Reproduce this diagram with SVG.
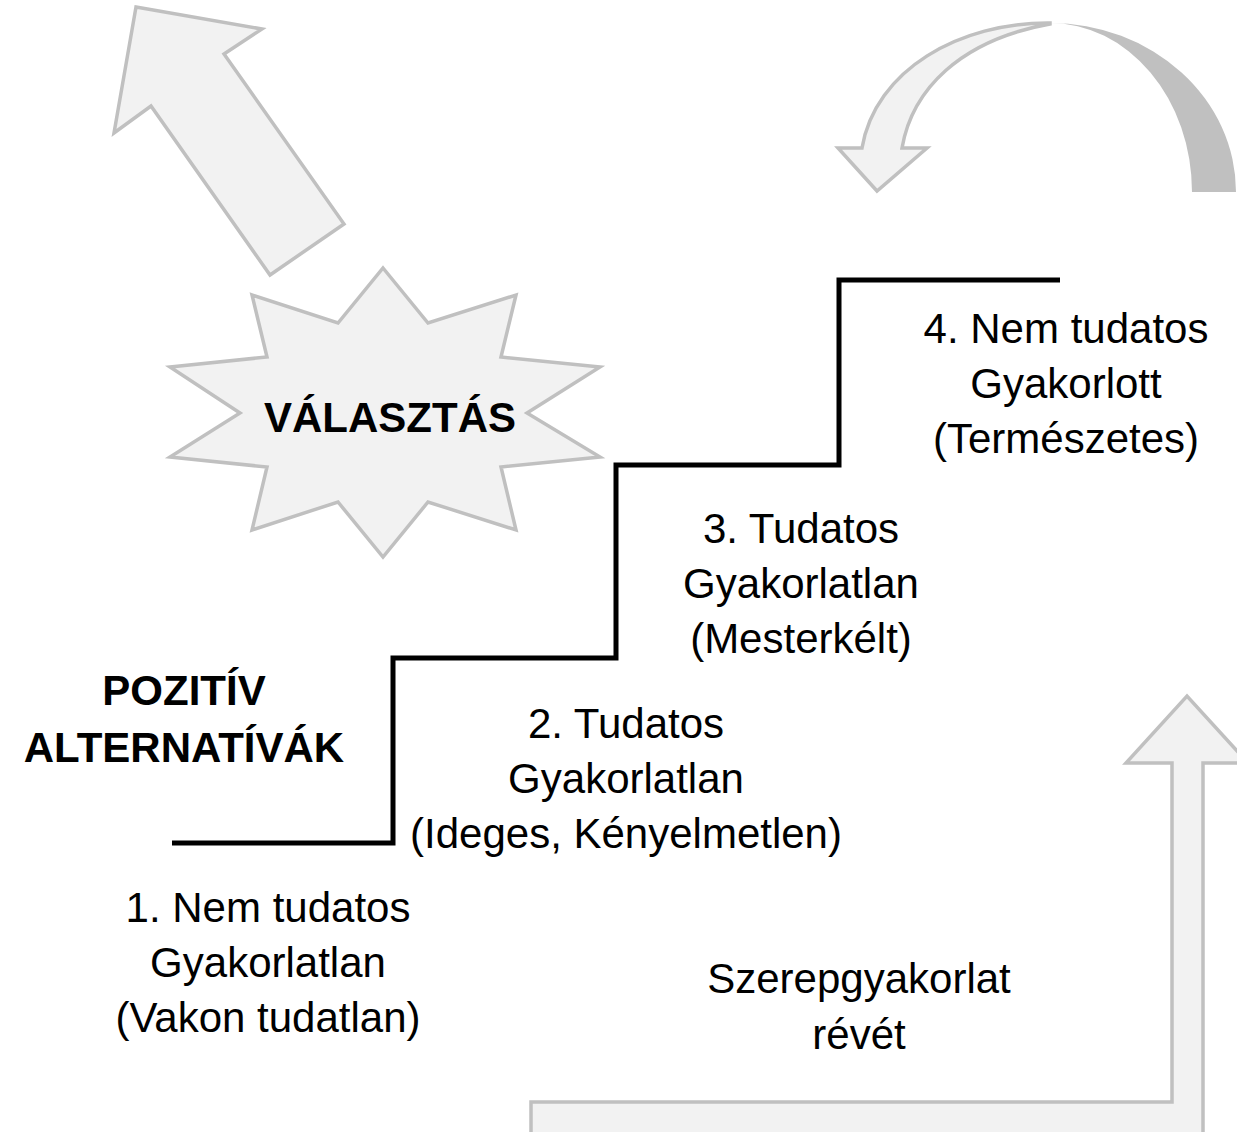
<svg xmlns="http://www.w3.org/2000/svg" width="1237" height="1132" viewBox="0 0 1237 1132">
<style>
.shape{fill:#f2f2f2;stroke:#c0c0c0;stroke-width:3.5;stroke-linejoin:miter}
.t{font-family:"Liberation Sans",Arial,sans-serif;font-size:42px;fill:#000;text-anchor:middle}
.b{font-weight:bold}
</style>
<rect width="1237" height="1132" fill="#fff"/>
<g id="arrow-up-left">
<polygon class="shape" points="136,7 262,29 224,54 344,224 270,275 151,106 114,133"/>
</g>
<g id="curved-arrow">
<path d="M1236,192 A186,169 0 0 0 1050,23 A142,169 0 0 1 1192,192 Z" fill="#c0c0c0"/>
<path class="shape" stroke-width="3" d="M1050,23 C960,22 875,70 862,148 L838,148 L877,191 L927,148 L902,148 C912,90 960,40 1050,24 Z"/>
</g>
<g id="bent-arrow">
<polygon class="shape" points="531,1145 531,1102 1172,1102 1172,763 1126,763 1187,696 1248,763 1203,763 1203,1145"/>
</g>
<g id="valasztas">
<polygon class="shape" points="383,268 428,323 516,295 501,357 600,367 527,413 600,457 501,467 516,530 428,502 383,557 338,502 252,530 267,467 170,457 240,413 170,367 267,357 252,295 338,323"/>
<text class="t b" x="390" y="432">VÁLASZTÁS</text>
</g>
<g id="connectors">
<polyline points="172,843 393,843 393,658 616,658 616,465 839,465 839,280 1060,280" fill="none" stroke="#000" stroke-width="5"/>
</g>
<g id="pozitiv">
<text class="t b" x="184" y="705">POZITÍV</text>
<text class="t b" x="184" y="762">ALTERNATÍVÁK</text>
</g>
<g id="step1">
<text class="t" x="268" y="922">1. Nem tudatos</text>
<text class="t" x="268" y="977">Gyakorlatlan</text>
<text class="t" x="268" y="1032">(Vakon tudatlan)</text>
</g>
<g id="step2">
<text class="t" x="626" y="738">2. Tudatos</text>
<text class="t" x="626" y="793">Gyakorlatlan</text>
<text class="t" x="626" y="848">(Ideges, Kényelmetlen)</text>
</g>
<g id="step3">
<text class="t" x="801" y="543">3. Tudatos</text>
<text class="t" x="801" y="598">Gyakorlatlan</text>
<text class="t" x="801" y="653">(Mesterkélt)</text>
</g>
<g id="step4">
<text class="t" x="1066" y="343">4. Nem tudatos</text>
<text class="t" x="1066" y="398">Gyakorlott</text>
<text class="t" x="1066" y="453">(Természetes)</text>
</g>
<g id="szerep">
<text class="t" x="859" y="993">Szerepgyakorlat</text>
<text class="t" x="859" y="1049">révét</text>
</g>
</svg>
